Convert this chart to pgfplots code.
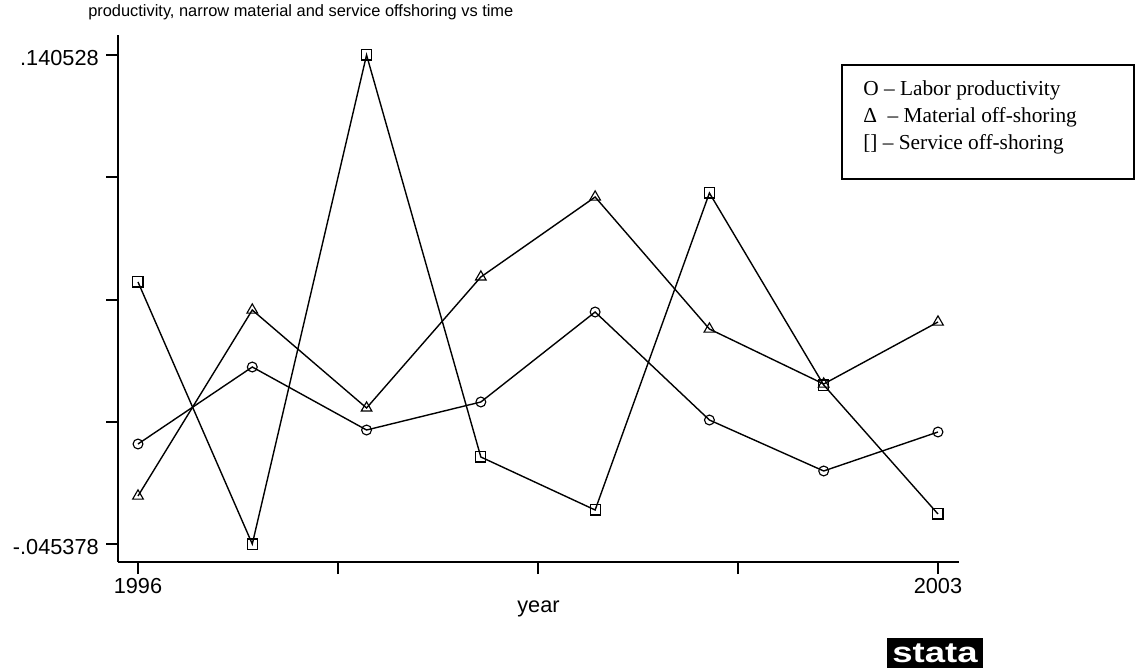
\documentclass[border=0pt]{standalone}
\usepackage{fontspec}
\setmainfont{Liberation Sans}
\newfontfamily\legfont{Liberation Serif}
\usepackage{graphicx}
\usepackage{pgfplots}
\pgfplotsset{compat=1.18}

\begin{document}
\begin{tikzpicture}
\useasboundingbox (0,0) rectangle (852pt,-502.5pt);
\begin{axis}[
  at={(88.5pt,-421.5pt)}, anchor=south west,
  scale only axis, width=630.75pt, height=395.25pt,
  xmin=1995.825, xmax=2003.184, ymin=-0.052221, ymax=0.148132,
  axis x line*=bottom, axis y line*=left,
  axis line style={-, line width=1.5pt},
  xtick={1996,1997.75,1999.5,2001.25,2003},
  xticklabels={1996,,,,2003},
  ytick={-0.045378,0.0010985,0.047575,0.0940515,0.140528},
  yticklabels={-.045378,,,,.140528},
  tick align=outside, major tick length=9pt,
  tick style={line width=1.5pt, black},
  ticklabel style={font=\fontsize{16.3}{19}\selectfont},
  yticklabel style={xshift=-2pt, yshift=-2pt},
  xlabel={year}, xlabel style={font=\fontsize{16.3}{19}\selectfont, yshift=2pt},
  clip=false,
  every axis plot/.append style={black, line width=1.05pt, mark options={line width=0.85pt, solid}},
]
% Labor productivity (circles)
\addplot+[black, mark=o, mark size=3.7pt] coordinates {
(1996,-0.00736) (1997,0.02191) (1998,-0.00204) (1999,0.00861)
(2000,0.04282) (2001,0.00176) (2002,-0.01762) (2003,-0.00280)};
% Material off-shoring (triangles)
\addplot+[black, mark=triangle, mark size=4.6pt] coordinates {
(1996,-0.02713) (1997,0.04358) (1998,0.00633) (1999,0.05613)
(2000,0.08654) (2001,0.03636) (2002,0.01545) (2003,0.03902)};
% Service off-shoring (squares)
\addplot+[black, mark=square, mark size=3.8pt] coordinates {
(1996,0.05423) (1997,-0.045378) (1998,0.140528) (1999,-0.01230)
(2000,-0.03245) (2001,0.08807) (2002,0.01507) (2003,-0.03397)};
\end{axis}
\node[anchor=base west, inner sep=0, font=\fontsize{12.3}{14}\selectfont] at (66pt,-12.5pt)
  {productivity, narrow material and service offshoring vs time};
\draw[line width=1.3pt] (631.5pt,-48.75pt) rectangle (850.5pt,-134.25pt);
\begin{scope}[every node/.style={anchor=base west, inner sep=0, font=\legfont\fontsize{16}{19}\selectfont}]
\node at (647.25pt,-71.5pt) {O – Labor productivity};
\node at (647.25pt,-91.75pt) {Δ \ – Material off-shoring};
\node at (647.25pt,-112pt) {[] – Service off-shoring};
\end{scope}
\fill[black] (665.25pt,-478.5pt) rectangle (737.25pt,-501pt);
\node[text=white, inner sep=0] at (701.25pt,-489.75pt) {\resizebox{64pt}{14pt}{\bfseries stata}};
\end{tikzpicture}
\end{document}
